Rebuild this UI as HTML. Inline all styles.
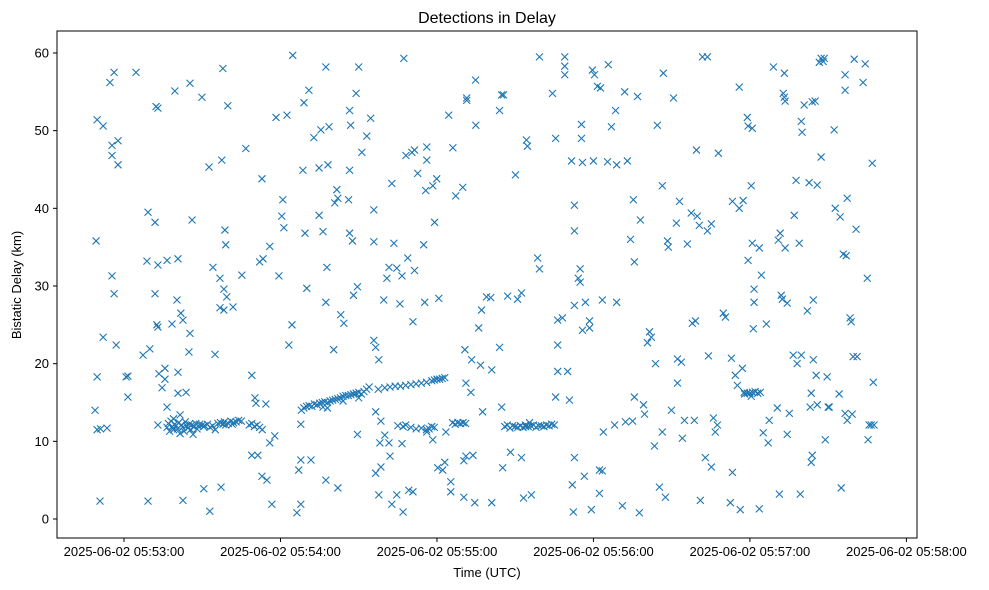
<!DOCTYPE html>
<html><head><meta charset="utf-8">
<style>
body{margin:0;background:#fff;font-family:"Liberation Sans","DejaVu Sans",sans-serif;}
svg{display:block}
</style></head>
<body>
<svg id="chart" width="989" height="590" xmlns="http://www.w3.org/2000/svg">
<rect width="989" height="590" fill="#fff"/>
<text x="487" y="23" font-size="16" text-anchor="middle" fill="#000">Detections in Delay</text>
<g id="points"></g>
<g id="xaxis"></g>
<g id="yaxis"></g>
<rect x="57" y="31" width="860" height="507" fill="none" stroke="#000" stroke-width="1"/>
<text x="487" y="577" font-size="13" text-anchor="middle">Time (UTC)</text>
<text x="21" y="285" font-size="13" text-anchor="middle" transform="rotate(-90 21 285)">Bistatic Delay (km)</text>
</svg>
<script>
// seconds after 05:53:00 UTC, delay km
const xTickSeconds = [0, 60, 120, 180, 240, 300];
const xTickLabels = ["2025-06-02 05:53:00","2025-06-02 05:54:00","2025-06-02 05:55:00","2025-06-02 05:56:00","2025-06-02 05:57:00","2025-06-02 05:58:00"];
const yTicks = [0, 10, 20, 30, 40, 50, 60];
const detections = [
[-10.7,35.8],[-11.1,14.0],[-10.3,11.5],[-10.3,18.3],[-9.2,2.3],[-10.3,51.4],[-8,50.6],[-8,23.4],[-6.5,11.7],[-5.4,56.2],[-4.6,31.3],[-4.6,48.1],[-4.6,46.8],[-3.8,57.5],[-3.8,29],[-3,22.4],[-2.3,48.7],[-2.3,45.6],[-9,11.6],
[0.8,18.3],[1.5,18.4],[1.5,15.7],[4.6,57.5],[9.2,39.5],[11.9,38.2],[12.3,53.1],[13,52.9],[8.8,33.2],[13,32.7],[9.9,21.9],[7.3,21.1],[12.6,25],[13,24.7],[11.9,29],[13.4,18.7],[15.7,18],[14.6,16.9],[16.5,14.4],[15.7,19.4],[9.2,2.3],[13,12.1],[16.5,33.3],[20.7,33.5],[18.4,25.1],[20.3,28.2],[21.8,26.5],[22.6,25.6],[25.3,23.9],[24.9,21.5],[20.7,18.9],[20.7,16.2],[23.8,16.3],[19.5,55.1],[25.3,56.1],[26.1,38.5],[22.6,2.4],[29.9,54.3],[30.6,3.9],[32.6,45.3],[34.1,32.4],[34.9,21.2],[36.8,31],[37.2,4.1],[32.9,1],[37.9,58],[37.5,46.2],[39.8,53.2],[38.7,37.2],[39,35.3],[39.4,28.6],[38.3,29.6],[41.8,27.3],[38.3,26.9],[36.8,27.2],[45.2,31.4],[46.7,47.7],[49,8.2],[49,18.5],[52,33.1],[52.9,43.8],[53.3,33.5],[55.9,35.1],[58.3,51.7],[51.3,8.2],[50.2,15.6],[54.4,14.8],[50.6,14.9],[52.9,5.5],[54.8,5],[56.7,1.9],[57.8,10.7],[55.9,9.8],[59.4,31.3],
[16.5,11.8],[17,12.3],[17.5,11.3],[18,12.6],[18.5,11.9],[19,11.5],[19.5,12.2],[20,12.0],[20.5,11.6],[21,12.4],[21.5,11.0],[22,12.1],[22.5,11.8],[23,11.3],[23.5,12.5],[24,12],[24.5,11.7],[25,12.2],[25.5,11.5],[26,12.1],[27,11.9],[27.5,12.3],[28,11.6],[28.5,12],[29,12.2],[30,12.1],[30.5,11.9],[31,12],[32,12.2],[33,11.8],[34,12],[35,11.5],[36,12.3],[37,12.4],[38,12.2],[38.5,12.5],[39,12.1],[40,12.3],[41,12.6],[41.5,12.2],[42,12.4],[43,12.5],[44,12.7],[45,12.6],[26.5,10.9],[19,12.9],[21.5,13.4],
[48,12.1],[49,12.3],[50,11.9],[51,12.1],[52,11.8],[53,11.5],
[60.5,39],[60.9,41.1],[61.3,37.5],[62.5,52],[64.7,59.7],[64.4,25],[63.2,22.4],[66.3,0.8],[67,6.3],[67.8,7.6],[67.8,1.9],[67.8,12.2],[69,53.6],[68.6,44.9],[69.4,36.8],[70.1,29.7],[70.9,55.2],[71.7,7.6],[72.8,49.1],[74.8,45.2],[75.5,50.1],[76.3,37],[74.8,39.1],[77.4,58.2],[78.6,50.5],[78.2,45.6],[77.4,27.9],[77.8,32.4],[77.4,5],[82,4],[76.3,14.4],[81.6,42.4],[82,41.3],[80.8,40.7],[80.4,21.8],[83.1,26.3],[84.3,25.2],[86.5,52.6],[86.9,50.7],[86.5,44.9],[86.1,41.1],[86.5,36.8],[87.6,35.8],[88,28.8],[89.5,29.9],[90,58.2],[89,54.8],[89.5,10.9],[91.2,47.2],[93.1,49.3],[94.6,51.6],[95.8,39.8],[95.8,35.7],[95.8,23],[96.5,22.1],[97.7,20.5],[96.5,13.8],[98.5,12.6],[98.1,9.8],[98.5,6.7],[100,10.8],[101.6,9.8],[103.5,35.5],[102.7,43.2],[101.6,32.4],[100.8,31],[99.6,28.2],[104.6,32.3],[105.8,27.7],[106.6,31.3],[107,0.9],[104.6,3.1],[102,8.1],[106.6,9.7],[102.7,1.9],[97.7,3.1],[96.5,5.9],[107.3,59.3],[108.1,46.8],[108.8,33.6],[109.2,3.7],[110.8,3.5],[111.4,47.5],[112.6,44.5],[110.4,47.2],[111.4,32],[114.9,35.3],[116.1,46.2],[116.1,47.9],[115.7,42.3],[115.3,27.9],[110.8,25.4],[116.1,11.2],[118.4,10.2],[120.3,6.6],[119.9,43.8],[118.4,42.9],[119.1,38.2],[120.7,28.4],[123,7.3],[122.2,6.3],[123.4,11.2],[124.5,52],[125.3,3.5],[125.3,4.8],[126.1,47.8],[127.2,41.6],[129.9,42.7],[130.3,2.8],[130.3,7.5],[131.1,8.1],[130.7,21.8],[133.3,20.5],[131.4,54.2],[131.1,17.5],[133,16.3],[133.8,8.2],[134.5,2.1],
[68,14],[69,14.3],[70,14.5],[71,14.6],[72,14.5],[73,14.8],[74,14.7],[75,14.9],[76,15],[77,15.1],[78,15],[79,15.2],[80,15.3],[81,15.4],[82,15.5],[83,15.6],[84,15.8],[85,15.9],[86,15.9],[87,16],[88,16.1],[89,16.2],[90,16.3],[91,16.1],[92,16.4],[93,16.7],[94,17],[97.5,16.7],[100,16.9],[102,17],[104,17.1],[106,17.1],[108,17.2],[110,17.3],[112,17.4],[114,17.5],[116,17.6],[118,17.8],[119,17.9],[120,18],[121,18],[122,18.1],[123,18.2],[78,14.3],[84,15.2],[90,15.6],
[105,12],[107,11.9],[108,12.1],[110,11.8],[112,11.6],[114,11.7],[116,11.5],[117,11.6],[118,11.9],[119,11.8],[126,12.4],[127,12.2],[128,12.4],[129,12.3],[130,12.4],[131,12.3],
[131.4,53.9],[134.9,50.7],[134.8,56.5],[136,24.6],[137.1,26.9],[136.7,19.8],[137.5,13.8],[139,28.6],[141,2.1],[140.6,28.5],[141,19.2],[144,22.1],[145.2,6.6],[144,52.6],[144.8,54.6],[145.5,54.6],[144.8,14.4],[147.1,28.7],[148.2,8.6],[150.1,44.3],[150.9,28.3],[152.4,29.1],[152.4,7.9],[153.2,2.7],[154.3,48.8],[154.7,48],[153.9,12.1],[155.5,12.4],[156.2,3.1],[158.6,33.6],[159.3,32.2],[159.3,59.5],[164.3,54.8],[165.5,49],[166.3,19],[166.3,25.6],[166.3,22.4],[165.5,15.7],[168.1,25.9],[169,59.5],[169,58.3],[169,57.2],[170.1,19],[170.8,15.3],[171.6,46.1],[172.7,40.4],[172.7,37.1],[172.7,27.5],[172.7,7.9],[171.9,4.4],[172.3,0.9],[174.2,31],[174.9,32.2],[174.9,30.5],[175.4,50.8],[175.4,49],[175.8,45.9],[175.8,24.3],[176.5,5.5],[176.9,27.9],[178.5,25.5],[178.5,24.6],[179.2,1.2],[180.4,57.2],[179.6,57.8],[180,46.1],[181.5,55.7],[182.7,55.5],[182.3,3.3],[182.3,6.3],[183.4,6.2],[183.4,28.2],[183.8,11.2],[185.4,46],[185.7,58.5],[186.9,50.5],[188.1,12.1],[188.5,52.6],[188.9,27.9],[188.9,45.6],[192,55],[191.1,1.7],[192.3,12.5],[193,46.1],[194.2,36],[195,12.6],[195.3,41.1],[195.7,33.1],[195.7,15.7],[196.9,54.4],[197.6,0.8],[198,38.5],[199.2,14.7],[199.6,13.5],[200.7,22.7],[201.5,24.1],[202.2,23.4],[203.4,9.4],[203.8,20],[204.5,50.7],[205.3,4.1],[206.4,42.9],[206.4,11.2],[206.8,57.4],[207.6,2.8],[208.4,35.8],[208.7,35],[209.9,14],[210.7,54.2],[211.8,38.1],[212.2,20.6],[212.2,17.5],[213,40.9],[213.7,20.2],[214.1,10.4],[214.9,12.7],[216,35.4],[217.5,39.4],[217.9,25.2],[218.7,12.7],[219.1,25.5],[219.5,47.5],[219.8,39],[220.6,37.8],[221,2.4],[221.8,59.5],[222.9,7.9],[223.7,59.5],[223.7,37.1],[224.1,21],[225.2,38],[225.2,6.7],[226,13],[226.7,11.2],[227.5,12.1],[227.9,47.1],[229.8,26.5],[230.6,26],[232.5,2.1],[232.9,20.7],[233.3,6],[233.3,40.9],[234.4,18.5],[235.2,17.2],[235.9,55.6],[235.9,40],[236.3,1.2],[237.1,19.4],[237.8,16.3],[237.4,41],[239,51.7],[239.3,50.6],[239.3,33.3],[240.5,15.8],[240.5,42.9],[240.9,35.5],[241.3,24.5],[240.9,50.3],[241.6,29.6],[241.6,27.9],[243.6,1.3],[243.6,34.9],[244.4,31.4],[245.1,11.1],[246.3,25.1],[247,9.8],[247.4,12.7],[249,58.2],[250.5,14.3],[250.9,35.9],[251.3,3.2],[251.6,36.8],[252,28.8],[252.4,28.3],[252.8,54.8],[253.2,54.3],[253.5,53.8],[253.2,57.4],[253.5,34.9],[254.3,27.8],[254.3,10.9],[255.1,13.6],[256.6,21.1],[257,39.1],[257.7,43.6],[258.1,20],[258.9,35.5],[259.3,3.2],[259.7,21.1],[259.7,51.2],[260,49.8],[260.8,53.3],[262,26.8],[262.7,43.3],[263.1,14.4],[263.5,16.2],[264.3,20.5],[263.9,53.7],[264.3,28.2],[263.5,7.3],[263.9,8.2],[265,53.8],[265.4,18.5],[265.8,43],[265.8,14.7],[266.6,58.8],[267.3,59.3],[267.3,46.6],[268.1,58.9],[268.5,59.3],[269.6,18.3],[268.9,10.2],[270,14.4],[270.4,14.4],[272.3,50.1],[272.7,40],[274.2,16.1],[274.6,38.9],[275,4],[275.8,34.1],[276.5,13.6],[276.5,57.2],[276.5,55.2],[276.9,33.9],[277.3,41.3],[277.3,12.7],[278.4,25.9],[278.8,25.4],[279.2,13.5],[279.6,20.9],[280,59.2],[280.7,37.3],[281.1,20.9],[283.4,56.2],[284.2,58.6],[285,31],[285.3,10.2],[285.7,12.1],[286.5,12.1],[286.9,45.8],[287.3,17.6],[287.6,12.1],
[146,11.9],[147,12.1],[148,11.7],[149,12],[150,11.9],[151,11.8],[152,12],[153,11.8],[154,11.9],[155,11.9],[156,12],[157,12.1],[158,11.8],[159,12],[160,12],[161,11.9],[162,12.1],[163,12],[164,12.2],[165,12.1],
[238,16.1],[239,16.2],[240,16.2],[241,16.3],[242,16.4],[243,16.2],[244,16.3]
];
const X0 = 124, PX_PER_SEC = 2.608, Y0 = 519, PX_PER_KM = 7.767;
function xScale(t){ return X0 + t * PX_PER_SEC; }
function yScale(d){ return Y0 - d * PX_PER_KM; }
const NS = "http://www.w3.org/2000/svg";
const gp = document.getElementById('points');
detections.forEach(function(p){
  const x = xScale(p[0]), y = yScale(p[1]);
  const m = document.createElementNS(NS, 'path');
  m.setAttribute('d', 'M'+(x-3.5)+' '+(y-3.5)+'L'+(x+3.5)+' '+(y+3.5)+'M'+(x-3.5)+' '+(y+3.5)+'L'+(x+3.5)+' '+(y-3.5));
  m.setAttribute('stroke', '#1f77b4');
  m.setAttribute('stroke-width', '1.1');
  
  
  gp.appendChild(m);
});
const gx = document.getElementById('xaxis');
xTickSeconds.forEach(function(t, i){
  const x = xScale(t);
  const l = document.createElementNS(NS, 'line');
  l.setAttribute('x1', x); l.setAttribute('x2', x); l.setAttribute('y1', 538); l.setAttribute('y2', 542);
  l.setAttribute('stroke', '#000');
  
  
  gx.appendChild(l);
  const tx = document.createElementNS(NS, 'text');
  tx.setAttribute('x', x); tx.setAttribute('y', 556);
  tx.setAttribute('font-size', '13'); tx.setAttribute('text-anchor', 'middle');
  tx.textContent = xTickLabels[i];
  
  
  gx.appendChild(tx);
});
const gy = document.getElementById('yaxis');
yTicks.forEach(function(v){
  const y = yScale(v);
  const l = document.createElementNS(NS, 'line');
  l.setAttribute('x1', 53); l.setAttribute('x2', 57); l.setAttribute('y1', y); l.setAttribute('y2', y);
  l.setAttribute('stroke', '#000');
  
  
  gy.appendChild(l);
  const tx = document.createElementNS(NS, 'text');
  tx.setAttribute('x', 49); tx.setAttribute('y', y + 4.5);
  tx.setAttribute('font-size', '13'); tx.setAttribute('text-anchor', 'end');
  tx.textContent = String(v);
  
  
  gy.appendChild(tx);
});
</script>
</body></html>
